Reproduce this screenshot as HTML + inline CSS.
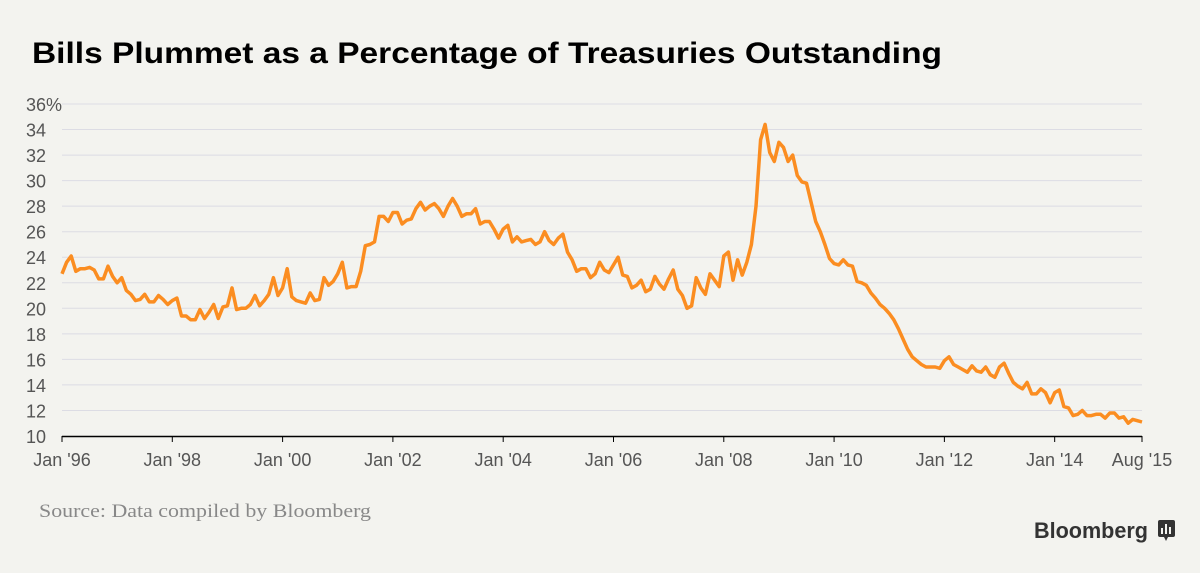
<!DOCTYPE html>
<html><head><meta charset="utf-8"><style>
body{margin:0;background:#f3f3ef;width:1200px;height:568px;overflow:hidden;font-family:"Liberation Sans",sans-serif}
</style></head><body>
<svg width="1200" height="568" xmlns="http://www.w3.org/2000/svg">
<rect width="1200" height="568" fill="#f3f3ef"/>
<text x="32" y="63" font-size="30" font-weight="bold" fill="#000" textLength="910" lengthAdjust="spacingAndGlyphs">Bills Plummet as a Percentage of Treasuries Outstanding</text>
<g id="grid"></g><g id="yt"></g><g id="xt"></g>
<path id="line" fill="none" stroke="#fb8d21" stroke-width="3.5" stroke-linejoin="round"/>
<text x="39" y="517" font-family="Liberation Serif,serif" font-size="19" fill="#888" textLength="332" lengthAdjust="spacingAndGlyphs">Source: Data compiled by Bloomberg</text>
<text x="1034" y="538" font-size="22" font-weight="bold" fill="#333" textLength="114" lengthAdjust="spacingAndGlyphs">Bloomberg</text>
<g><rect x="1158" y="520" width="17" height="17" rx="2" fill="#333"/><path d="M1164 537 l2 4 l2 -4z" fill="#333"/>
<rect x="1161" y="528" width="2" height="6" fill="#f3f3ef"/><rect x="1165" y="524" width="2" height="10" fill="#f3f3ef"/><rect x="1169" y="527" width="2" height="7" fill="#f3f3ef"/></g>
</svg>
<script>
const yTicks=[10,12,14,16,18,20,22,24,26,28,30,32,34,36];
const xLabels=["Jan '96","Jan '98","Jan '00","Jan '02","Jan '04","Jan '06","Jan '08","Jan '10","Jan '12","Jan '14","Aug '15"];
const xLabelMonths=[0,24,48,72,96,120,144,168,192,216,235];
const values=[
22.7,23.6,24.1,22.9,23.1,23.1,23.2,23.0,22.3,22.3,23.3,22.5,
22.0,22.4,21.4,21.1,20.6,20.7,21.1,20.5,20.5,21.0,20.7,20.3,
20.6,20.8,19.4,19.4,19.1,19.1,19.9,19.2,19.7,20.3,19.2,20.1,
20.2,21.6,19.9,20.0,20.0,20.3,21.0,20.2,20.6,21.1,22.4,21.0,
21.6,23.1,20.9,20.6,20.5,20.4,21.2,20.6,20.7,22.4,21.8,22.1,
22.7,23.6,21.6,21.7,21.7,22.9,24.9,25.0,25.2,27.2,27.2,26.8,
27.5,27.5,26.6,26.9,27.0,27.8,28.3,27.7,28.0,28.2,27.8,27.2,
28.0,28.6,28.0,27.2,27.4,27.4,27.8,26.6,26.8,26.8,26.2,25.5,
26.2,26.5,25.2,25.6,25.2,25.3,25.4,25.0,25.2,26.0,25.3,25.0,
25.5,25.8,24.4,23.8,22.9,23.1,23.1,22.4,22.7,23.6,23.0,22.8,
23.4,24.0,22.6,22.5,21.6,21.8,22.2,21.3,21.5,22.5,21.9,21.5,
22.3,23.0,21.5,21.0,20.0,20.2,22.4,21.6,21.1,22.7,22.2,21.7,
24.1,24.4,22.2,23.8,22.6,23.6,25.0,28.0,33.2,34.4,32.2,31.5,
33.0,32.6,31.5,32.0,30.4,29.9,29.8,28.3,26.8,26.0,25.0,23.9,
23.5,23.4,23.8,23.4,23.3,22.1,22.0,21.8,21.2,20.8,20.3,20.0,
19.6,19.1,18.4,17.6,16.8,16.2,15.9,15.6,15.4,15.4,15.4,15.3,
15.9,16.2,15.6,15.4,15.2,15.0,15.5,15.1,15.0,15.4,14.8,14.6,
15.4,15.7,14.9,14.2,13.9,13.7,14.2,13.3,13.3,13.7,13.4,12.6,
13.4,13.6,12.3,12.2,11.6,11.7,12.0,11.6,11.6,11.7,11.7,11.4,
11.8,11.8,11.4,11.5,11.0,11.3,11.2,11.1];
const NS="http://www.w3.org/2000/svg";
const x=m=>62+m*(1142-62)/235;
const y=v=>436-(v-10)*(436-104)/26;
function mk(t,a,p){const e=document.createElementNS(NS,t);for(const k in a)e.setAttribute(k,a[k]);p.appendChild(e);return e;}
const grid=document.getElementById('grid'),yt=document.getElementById('yt'),xt=document.getElementById('xt');
yTicks.forEach(v=>{
 if(v>10){const l=mk('line',{x1:62,x2:1142,y1:y(v),y2:y(v),stroke:'#dcdce4','stroke-width':1},grid);
 
 }
 const t=mk('text',{x:26,y:y(v)+7,'font-size':18,fill:'#555'},yt);
 t.textContent=v+(v===36?'%':'');
 
 
});
const ax=mk('line',{x1:62,x2:1142,y1:436.5,y2:436.5,stroke:'#000','stroke-width':1.5},xt);


xLabels.forEach((s,i)=>{
 const xx=x(xLabelMonths[i]);
 mk('line',{x1:xx,x2:xx,y1:436,y2:442,stroke:'#000','stroke-width':1},xt);
 const t=mk('text',{x:xx,y:466,'font-size':18,fill:'#555','text-anchor':'middle'},xt);
 t.textContent=s;
 
 
});
document.getElementById('line').setAttribute('d',values.map((v,i)=>(i?'L':'M')+x(i).toFixed(1)+' '+y(v).toFixed(1)).join(''));
</script>
</body></html>
